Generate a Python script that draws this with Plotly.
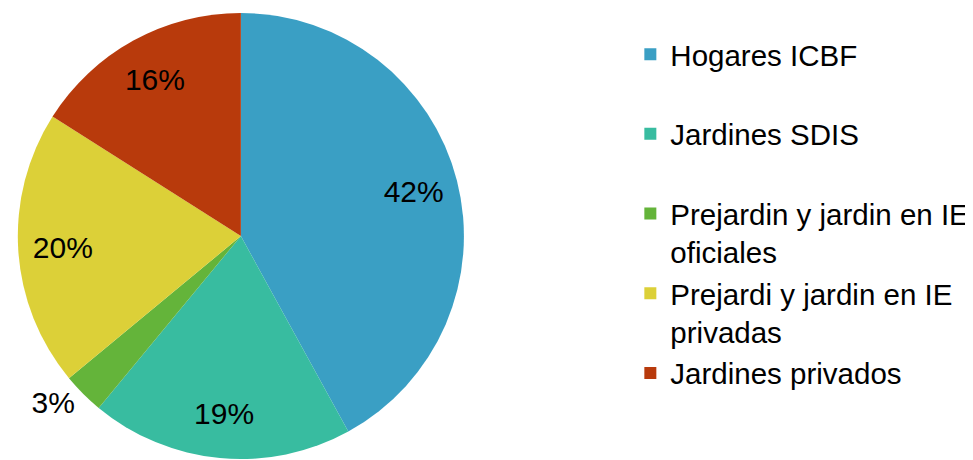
import plotly.graph_objects as go

legend_labels = ["Hogares ICBF<br>&#160;", "Jardines SDIS<br>&#160;",
                 "Prejardin y jardin en IE<br>oficiales",
                 "Prejardi y jardin en IE<br>privadas", "Jardines privados<br>&#160;"]
values = [42, 19, 3, 20, 16]
colors = ["#3a9fc4", "#38bca0", "#64b43a", "#dcd038", "#b83a0c"]
# which slices carry an outside label (drawn by the main pie) vs inside label (ring overlay)
outside_label = [False, False, True, False, False]

FONT = "Liberation Sans, Arial"
W, H = 973, 460
dom = dict(x=[0, 455 / W], y=[9 / H, 1])

pct = "%{percent:.0%}"
main_tpl = [pct if o else "" for o in outside_label]
main_pos = ["outside" if o else "none" for o in outside_label]
ring_tpl = ["" if o else pct for o in outside_label]
ring_pos = ["none" if o else "inside" for o in outside_label]

common = dict(
    labels=legend_labels,
    values=values,
    sort=False,
    direction="clockwise",
    rotation=0,
    insidetextorientation="horizontal",
    domain=dom,
)

fig = go.Figure()
fig.add_trace(go.Pie(
    **common,
    texttemplate=main_tpl,
    textposition=main_pos,
    marker=dict(colors=colors, line=dict(width=0)),
    textfont=dict(family=FONT, size=30, color="black"),
    hoverinfo="label+percent",
))
fig.add_trace(go.Pie(
    **common,
    texttemplate=ring_tpl,
    textposition=ring_pos,
    hole=0.6,
    marker=dict(colors=["rgba(0,0,0,0)"] * len(values), line=dict(width=0)),
    textfont=dict(family=FONT, size=30, color="black"),
    showlegend=False,
    hoverinfo="skip",
))

fig.update_layout(
    width=W, height=H,
    margin=dict(l=0, r=0, t=0, b=0),
    paper_bgcolor="white",
    plot_bgcolor="white",
    showlegend=True,
    legend=dict(
        x=0.637, y=0.966, xanchor="left", yanchor="top",
        valign="top",
        font=dict(family=FONT, size=29.5, color="black"),
        bgcolor="rgba(0,0,0,0)",
    ),
    uniformtext=dict(minsize=30, mode="show"),
)

fig.write_html("out.html")
